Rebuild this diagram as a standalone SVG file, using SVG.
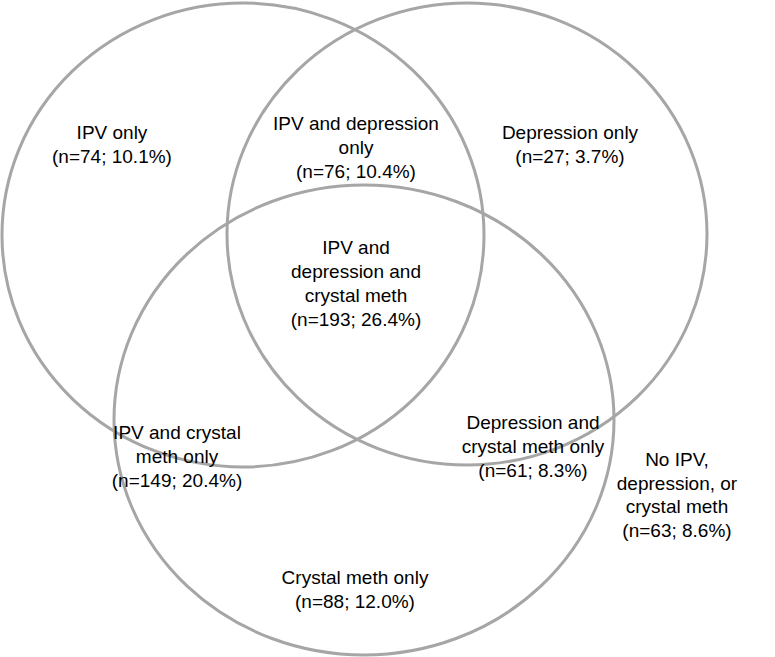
<svg xmlns="http://www.w3.org/2000/svg" width="775" height="657" viewBox="0 0 775 657">
<style>
.c{fill:none;stroke:#a6a6a6;stroke-width:3}
text{font-family:"Liberation Sans",Arial,sans-serif;font-size:19px;fill:#000;text-anchor:middle}
</style>
<rect width="775" height="657" fill="#fff"/>
<g id="sets">
<ellipse id="ipv" class="c" cx="243" cy="235" rx="241" ry="232"/>
<ellipse id="depression" class="c" cx="467" cy="234" rx="240" ry="231"/>
<ellipse id="meth" class="c" cx="364" cy="420" rx="250" ry="235"/>
</g>
<g id="labels">
<text x="112" y="139">IPV only<tspan x="112" dy="24">(n=74; 10.1%)</tspan></text>
<text x="356" y="130">IPV and depression<tspan x="356" dy="24">only</tspan><tspan x="356" dy="24">(n=76; 10.4%)</tspan></text>
<text x="570" y="139">Depression only<tspan x="570" dy="24">(n=27; 3.7%)</tspan></text>
<text x="356" y="254">IPV and<tspan x="356" dy="24">depression and</tspan><tspan x="356" dy="24">crystal meth</tspan><tspan x="356" dy="24">(n=193; 26.4%)</tspan></text>
<text x="177" y="439">IPV and crystal<tspan x="177" dy="24">meth only</tspan><tspan x="177" dy="24">(n=149; 20.4%)</tspan></text>
<text x="533" y="429">Depression and<tspan x="533" dy="24">crystal meth only</tspan><tspan x="533" dy="24">(n=61; 8.3%)</tspan></text>
<text x="355" y="584">Crystal meth only<tspan x="355" dy="24">(n=88; 12.0%)</tspan></text>
<text x="677" y="466">No IPV,<tspan x="677" dy="23.5">depression, or</tspan><tspan x="677" dy="23.5">crystal meth</tspan><tspan x="677" dy="23.5">(n=63; 8.6%)</tspan></text>
</g>
</svg>
